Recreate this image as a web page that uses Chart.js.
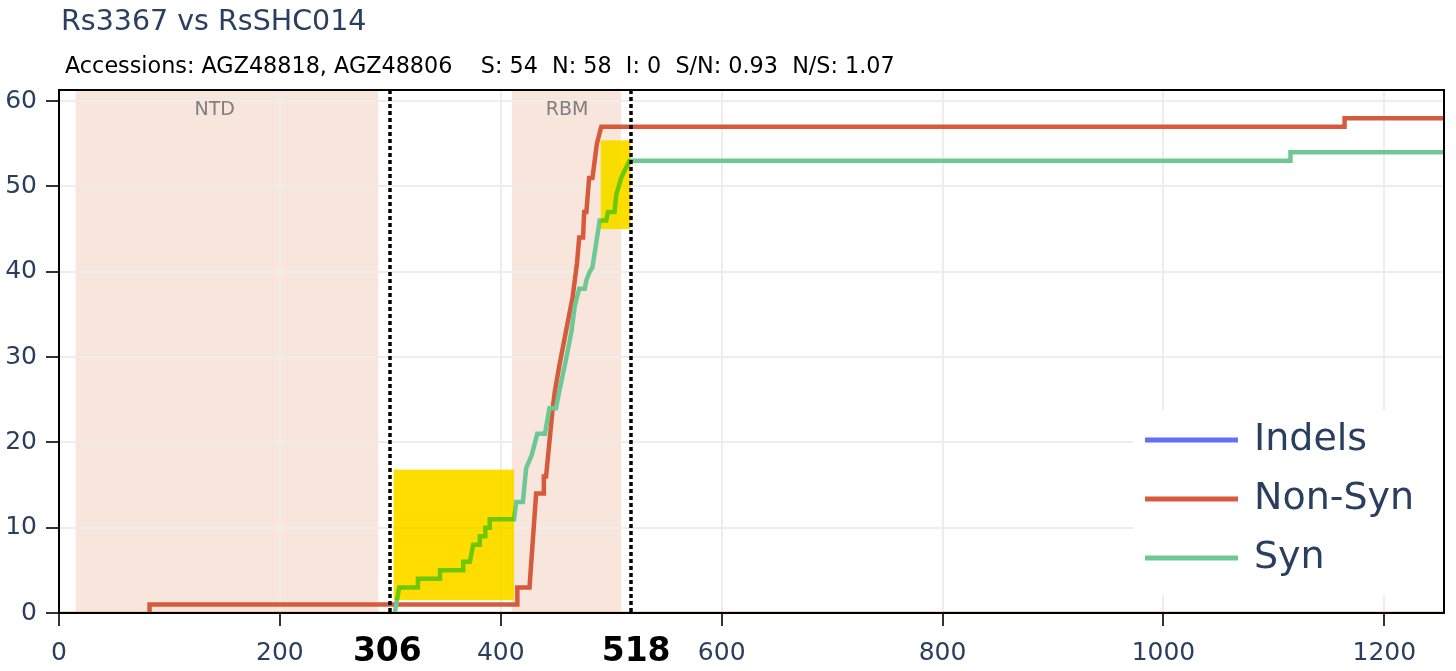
<!DOCTYPE html>
<html>
<head>
<meta charset="utf-8">
<script src="https://cdn.jsdelivr.net/npm/chart.js@4.4.1/dist/chart.umd.min.js"></script>
<style>
  html, body { margin: 0; padding: 0; background: #fff; }
</style>
</head>
<body>
<canvas id="chart" width="1456" height="671"></canvas>
<script>
// cumulative counts along the alignment, given as the corner points of each step line
const seriesNames = ["Indels", "Non-Syn", "Syn"];
const indelsX = [0, 1254];
const indelsY = [0, 0];
const nonSynX = [82, 82, 415, 415, 426, 432, 439, 439, 441, 447, 449, 453, 459, 462, 465, 469, 471, 474.5, 475.5, 477.5, 480, 483, 487, 491, 1164, 1164, 1254];
const nonSynY = [0, 1, 1, 3, 3, 14, 14, 16, 16, 24, 26, 29, 33, 35, 37, 41, 44, 44, 47, 47, 51, 51, 55, 57, 57, 58, 58];
const synX = [304, 308, 325, 325, 345, 345, 366, 366, 372, 373.5, 375, 381, 381, 386, 386, 390, 390, 412, 414, 420, 423, 428, 433, 440, 444, 450, 453, 459.5, 464, 467, 471, 476, 477.5, 480.5, 483, 489.5, 495.5, 497, 503, 504.5, 509, 516.5, 1115, 1115, 1254];
const synY = [0, 3, 3, 4, 4, 5, 5, 6, 6, 7, 8, 8, 9, 9, 10, 10, 11, 11, 13, 13, 17, 18.5, 21, 21, 24, 24, 26, 30, 33, 36, 38, 38, 39, 40, 40.5, 46, 46, 47, 47, 49, 51, 53, 53, 54, 54];

// domains and marked positions
const domainNames = ["NTD", "RBM"];
const domainStart = [15, 410];
const domainEnd = [289, 509];
const domainLabelX = [141, 460];
const markerX = [300, 518];
const markerLabels = ["306", "518"];

const lineColors = ["#e6ab82", "#d65a3c", "#6ec896"];
const legendColors = ["#636efa", "#d65a3c", "#6ec896"];
const navy = "#2a3f5f";
const FONT = "DejaVu Sans";

// highlighter boxes drawn over the plot (x0, x1, y0, y1 in data units)
const highlights = [
  [303, 412, 1.5, 16.8],
  [490.5, 517.6, 45, 55.4]
];

function toPoints(xs, ys) {
  return xs.map((x, i) => ({ x: x, y: ys[i] }));
}

const decor = {
  id: "decor",
  beforeDraw(chart) {
    const { ctx, chartArea: a, scales: { x } } = chart;
    ctx.save();
    ctx.fillStyle = "#f8e5dc";
    domainStart.forEach((s, i) => {
      const x0 = x.getPixelForValue(s);
      const x1 = x.getPixelForValue(domainEnd[i]);
      ctx.fillRect(x0, a.top, x1 - x0, a.bottom - a.top);
    });
    ctx.restore();
  },
  afterDatasetsDraw(chart) {
    const { ctx, chartArea: a, scales: { x, y } } = chart;
    ctx.save();
    // domain names
    ctx.fillStyle = "#7f7f7f";
    ctx.font = "19px '" + FONT + "'";
    ctx.textAlign = "center";
    ctx.textBaseline = "middle";
    domainNames.forEach((n, i) => {
      ctx.fillText(n, x.getPixelForValue(domainLabelX[i]), 110);
    });
    // dotted markers
    ctx.strokeStyle = "#000";
    ctx.lineWidth = 3.5;
    ctx.setLineDash([4, 3]);
    markerX.forEach((m) => {
      const px = Math.round(x.getPixelForValue(m));
      ctx.beginPath();
      ctx.moveTo(px, a.top);
      ctx.lineTo(px, a.bottom);
      ctx.stroke();
    });
    ctx.setLineDash([]);
    // yellow highlighter
    ctx.globalCompositeOperation = "darken";
    ctx.fillStyle = "#ffdd00";
    highlights.forEach((h) => {
      const x0 = x.getPixelForValue(h[0]);
      const x1 = x.getPixelForValue(h[1]);
      const y0 = y.getPixelForValue(h[2]);
      const y1 = y.getPixelForValue(h[3]);
      ctx.fillRect(x0, y1, x1 - x0, y0 - y1);
    });
    ctx.restore();
  },
  afterDraw(chart) {
    const { ctx, chartArea: a, scales: { x } } = chart;
    ctx.save();
    // frame
    ctx.strokeStyle = "#000";
    ctx.lineWidth = 2;
    ctx.strokeRect(a.left, a.top, a.right - a.left, a.bottom - a.top);

    // legend
    ctx.fillStyle = "#fff";
    ctx.fillRect(1133, 410, a.right - 1 - 1133, 185);
    ctx.font = "38px '" + FONT + "'";
    ctx.textBaseline = "middle";
    ctx.textAlign = "left";
    seriesNames.forEach((n, i) => {
      const yy = 440 + i * 59;
      ctx.strokeStyle = legendColors[i];
      ctx.lineWidth = 5;
      ctx.beginPath();
      ctx.moveTo(1145, yy);
      ctx.lineTo(1238, yy);
      ctx.stroke();
      ctx.fillStyle = navy;
      ctx.fillText(n, 1254, yy);
    });

    // title and subtitle
    ctx.fillStyle = navy;
    ctx.font = "28.5px '" + FONT + "'";
    ctx.fillText("Rs3367 vs RsSHC014", 61, 23);
    ctx.fillStyle = "#000";
    ctx.font = "22.3px '" + FONT + "'";
    ctx.fillText("Accessions: AGZ48818, AGZ48806    S: 54  N: 58  I: 0  S/N: 0.93  N/S: 1.07", 65, 67);

    // bold position labels under the markers
    ctx.font = "bold 33px '" + FONT + "'";
    ctx.textAlign = "center";
    markerX.forEach((m, i) => {
      ctx.fillText(markerLabels[i], x.getPixelForValue(m) + (i === 0 ? -3 : 5), 652);
    });
    ctx.restore();
  }
};

new Chart(document.getElementById("chart"), {
  type: "line",
  data: {
    datasets: [
      { label: seriesNames[2], data: toPoints(synX, synY), borderColor: lineColors[2], borderWidth: 4.5, order: 0 },
      { label: seriesNames[1], data: toPoints(nonSynX, nonSynY), borderColor: lineColors[1], borderWidth: 4.5, order: 1 },
      { label: seriesNames[0], data: toPoints(indelsX, indelsY), borderColor: lineColors[0], borderWidth: 3, order: 2 }
    ]
  },
  options: {
    responsive: false,
    animation: false,
    devicePixelRatio: 1,
    elements: { point: { radius: 0 }, line: { tension: 0, fill: false } },
    layout: { padding: { top: 90, right: 12, left: 0, bottom: 0 } },
    plugins: { legend: { display: false }, title: { display: false }, tooltip: { enabled: false } },
    scales: {
      x: {
        type: "linear",
        min: 0,
        max: 1254,
        afterFit: (s) => { s.height = 58; },
        grid: { color: "#ededed", lineWidth: 2, tickColor: "#333", tickLength: 13, tickWidth: 2 },
        border: { display: false },
        ticks: { stepSize: 200, includeBounds: false, maxRotation: 0, padding: 12, color: navy,
          font: { family: FONT, size: 25 }, callback: (v) => String(v) }
      },
      y: {
        min: 0,
        max: 61.3,
        afterFit: (s) => { s.width = 59; },
        grid: { color: "#ededed", lineWidth: 2, tickColor: "#333", tickLength: 13, tickWidth: 2 },
        border: { display: false },
        ticks: { stepSize: 10, includeBounds: false, padding: 9, color: navy, font: { family: FONT, size: 25 } }
      }
    }
  },
  plugins: [decor]
});
</script>
</body>
</html>
